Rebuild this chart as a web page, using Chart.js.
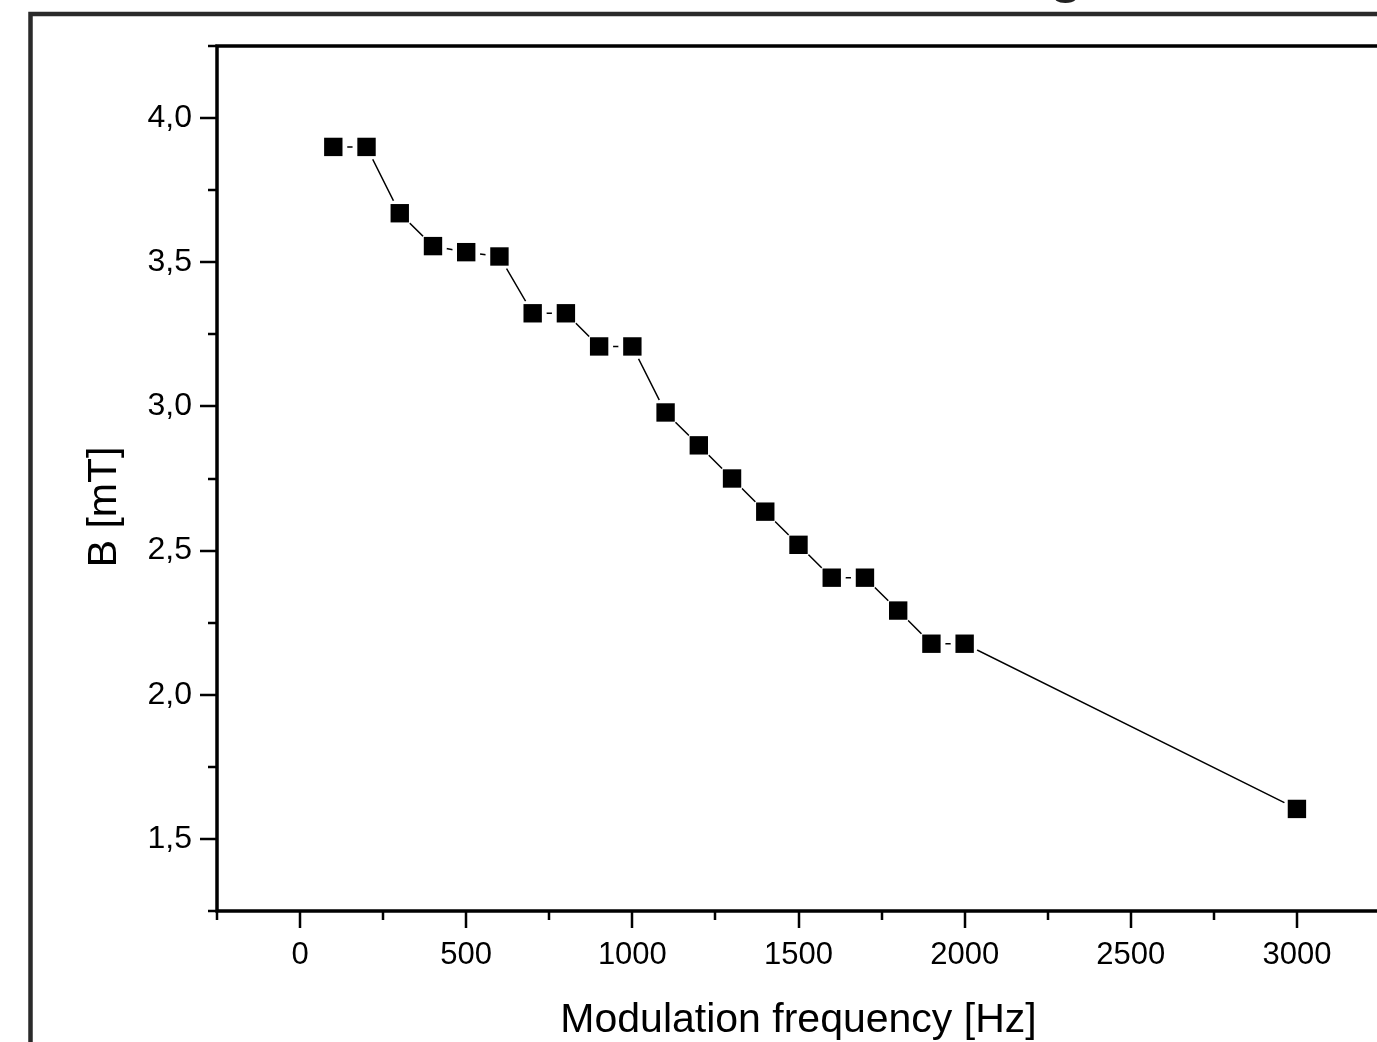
<!DOCTYPE html>
<html>
<head>
<meta charset="utf-8">
<script src="https://cdn.jsdelivr.net/npm/chart.js@4/dist/chart.umd.min.js"></script>
<style>
    html, body { margin: 0; padding: 0; background: #fff; overflow: hidden; }
    #wrap { position: absolute; left: 0; top: 0; }
</style>
</head>
<body>
<div id="wrap"><canvas id="chart" width="1420" height="1100"></canvas></div>
<script>
// Modulation frequency [Hz]
const frequencies = [100, 200, 300, 400, 500, 600, 700, 800, 900, 1000,
    1100, 1200, 1300, 1400, 1500, 1600, 1700, 1800, 1900, 2000, 3000];
// B [mT]
const fieldValues = [3.90, 3.90, 3.67, 3.556, 3.535, 3.52, 3.323, 3.323, 3.208, 3.208,
    2.979, 2.865, 2.75, 2.635, 2.52, 2.406, 2.406, 2.292, 2.177, 2.177, 1.604];

// Axis ticks (major ones get labels)
const xMajorTicks = [0, 500, 1000, 1500, 2000, 2500, 3000];
const xMinorTicks = [-250, 250, 750, 1250, 1750, 2250, 2750, 3250];
const yMajorTicks = [1.5, 2.0, 2.5, 3.0, 3.5, 4.0];
const yMinorTicks = [1.25, 1.75, 2.25, 2.75, 3.25, 3.75, 4.25];

const xTitle = 'Modulation frequency [Hz]';
// trailing spaces push the rotated title a bit below the axis centre, as in the original
const yTitle = 'B [mT]     ';

const points = frequencies.map((f, i) => ({ x: f, y: fieldValues[i] }));
const FONT = '"Liberation Sans", Arial, sans-serif';

// Origin-like frame: outer page border, boxed axes, ticks pointing outwards
const originFrame = {
    id: 'originFrame',
    beforeDraw(chart) {
        const ctx = chart.ctx;
        ctx.save();
        ctx.strokeStyle = '#2a2a2a';
        ctx.lineWidth = 4.5;
        ctx.strokeRect(30.5, 14, 2000, 2000);
        // bottom of the cut-off page title
        ctx.fillStyle = '#222';
        ctx.font = `bold 56px ${FONT}`;
        ctx.textAlign = 'center';
        ctx.textBaseline = 'alphabetic';
        ctx.fillText('g', 1066, -9.5);
        ctx.restore();
    },
    afterDraw(chart) {
        const ctx = chart.ctx;
        const { left, right, top, bottom } = chart.chartArea;
        const xs = chart.scales.x;
        const ys = chart.scales.y;
        ctx.save();
        ctx.strokeStyle = '#000';
        ctx.lineWidth = 3.5;
        ctx.beginPath();
        ctx.moveTo(left, top);
        ctx.lineTo(right, top);
        ctx.lineTo(right, bottom);
        ctx.lineTo(left, bottom);
        ctx.closePath();
        ctx.stroke();

        ctx.lineWidth = 2.5;
        ctx.beginPath();
        xMajorTicks.forEach(v => {
            const px = Math.round(xs.getPixelForValue(v));
            ctx.moveTo(px, bottom); ctx.lineTo(px, bottom + 17);
        });
        xMinorTicks.forEach(v => {
            const px = Math.round(xs.getPixelForValue(v));
            ctx.moveTo(px, bottom); ctx.lineTo(px, bottom + 9);
        });
        yMajorTicks.forEach(v => {
            const py = Math.round(ys.getPixelForValue(v));
            ctx.moveTo(left, py); ctx.lineTo(left - 17, py);
        });
        yMinorTicks.forEach(v => {
            const py = Math.round(ys.getPixelForValue(v));
            ctx.moveTo(left, py); ctx.lineTo(left - 9, py);
        });
        ctx.stroke();
        ctx.restore();
    }
};

new Chart(document.getElementById('chart'), {
    type: 'scatter',
    data: {
        datasets: [
            {
                // connecting line, white discs leave a small gap around each marker
                data: points,
                showLine: true,
                borderColor: '#000',
                borderWidth: 1.5,
                pointStyle: 'circle',
                pointRadius: 14,
                pointBackgroundColor: '#fff',
                pointBorderWidth: 0,
                order: 1
            },
            {
                data: points,
                showLine: false,
                pointStyle: 'rect',
                pointRadius: 13,
                pointBackgroundColor: '#000',
                pointBorderWidth: 0,
                order: 0
            }
        ]
    },
    options: {
        responsive: false,
        animation: false,
        devicePixelRatio: 1,
        layout: { padding: { left: 0, top: 46, right: 40, bottom: 0 } },
        plugins: {
            legend: { display: false },
            tooltip: { enabled: false }
        },
        scales: {
            x: {
                type: 'linear',
                position: 'bottom',
                min: -250,
                max: 3250,
                afterBuildTicks: scale => { scale.ticks = xMajorTicks.map(v => ({ value: v })); },
                afterFit: scale => { scale.height = 189; },
                grid: { display: false, drawTicks: false },
                border: { display: false },
                ticks: {
                    padding: 26,
                    maxRotation: 0,
                    autoSkip: false,
                    color: '#000',
                    font: { family: FONT, size: 31 },
                    callback: v => String(v)
                },
                title: {
                    display: true,
                    text: xTitle,
                    color: '#000',
                    font: { family: FONT, size: 41 },
                    padding: { top: 0, bottom: 55 }
                }
            },
            y: {
                type: 'linear',
                min: 1.25,
                max: 4.25,
                afterBuildTicks: scale => { scale.ticks = yMajorTicks.map(v => ({ value: v })); },
                afterFit: scale => { scale.width = 217; },
                grid: { display: false, drawTicks: false },
                border: { display: false },
                ticks: {
                    padding: 25,
                    autoSkip: false,
                    color: '#000',
                    font: { family: FONT, size: 32 },
                    callback: v => v.toFixed(1).replace('.', ',')
                },
                title: {
                    display: true,
                    text: yTitle,
                    color: '#000',
                    font: { family: FONT, size: 41 },
                    padding: { top: 80, bottom: 0 }
                }
            }
        }
    },
    plugins: [originFrame]
});
</script>
</body>
</html>
